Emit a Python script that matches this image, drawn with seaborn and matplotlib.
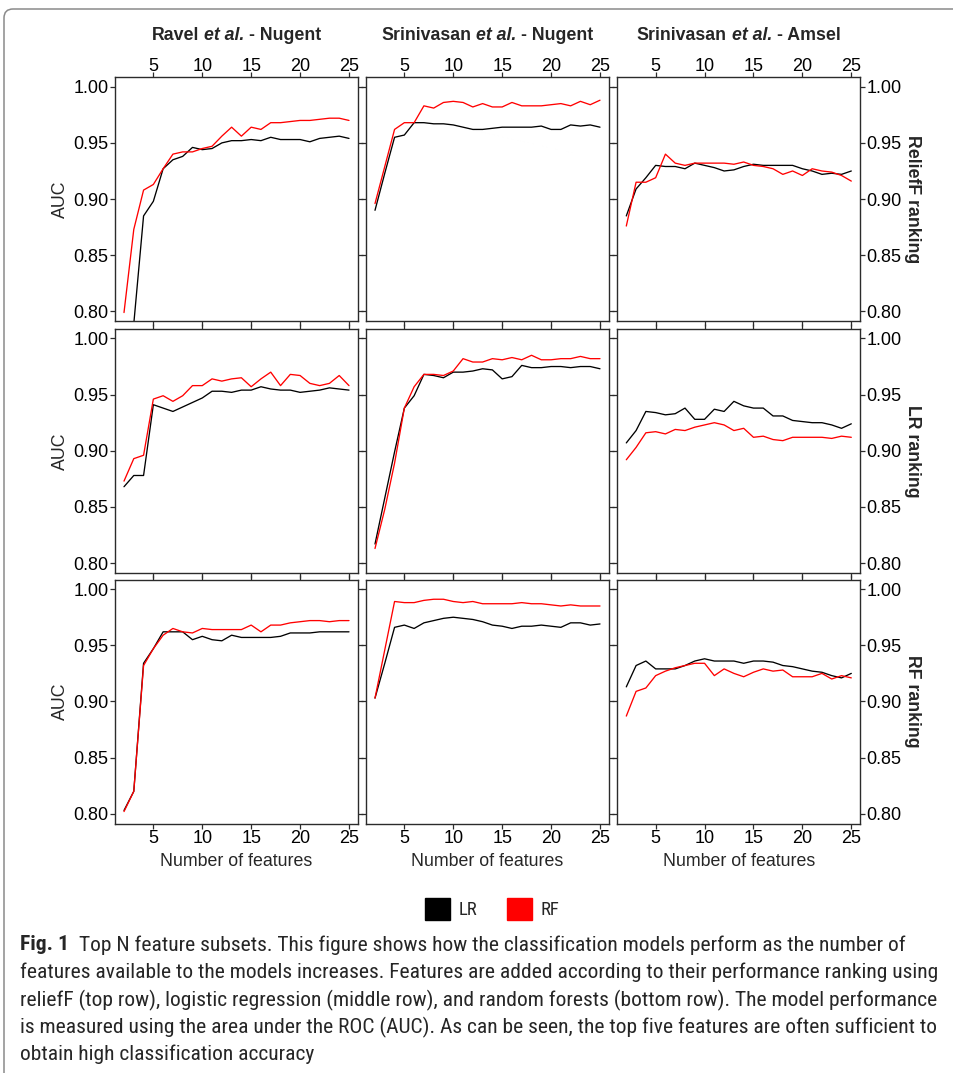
import matplotlib
matplotlib.use("Agg")
import numpy as np
import pandas as pd
import matplotlib.pyplot as plt
import seaborn as sns
from matplotlib.patches import Patch, FancyBboxPatch
from matplotlib.ticker import FormatStrFormatter
from matplotlib.transforms import IdentityTransform, ScaledTranslation
from matplotlib import font_manager

# ---------------- data ----------------
n_features = list(range(2, 26))

col_titles = [("Ravel", "et al.", "- Nugent"),
              ("Srinivasan", "et al.", "- Nugent"),
              ("Srinivasan", "et al.", "- Amsel")]
row_titles = ["ReliefF ranking", "LR ranking", "RF ranking"]
models = ["LR", "RF"]
model_colors = ["black", "red"]

# ReliefF ranking (top row)
relieff_ravel_lr = [0.750, 0.789, 0.885, 0.898, 0.927, 0.935, 0.938, 0.946, 0.944, 0.945, 0.950, 0.952,
                    0.952, 0.953, 0.952, 0.955, 0.953, 0.953, 0.953, 0.951, 0.954, 0.955, 0.956, 0.954]
relieff_ravel_rf = [0.799, 0.873, 0.908, 0.913, 0.927, 0.940, 0.942, 0.942, 0.945, 0.947, 0.956, 0.964,
                    0.956, 0.964, 0.962, 0.968, 0.968, 0.969, 0.970, 0.970, 0.971, 0.972, 0.972, 0.970]
relieff_srin_nugent_lr = [0.890, 0.923, 0.955, 0.957, 0.968, 0.968, 0.967, 0.967, 0.966, 0.964, 0.962, 0.962,
                          0.963, 0.964, 0.964, 0.964, 0.964, 0.965, 0.962, 0.962, 0.966, 0.965, 0.966, 0.964]
relieff_srin_nugent_rf = [0.896, 0.929, 0.962, 0.968, 0.968, 0.983, 0.981, 0.986, 0.987, 0.986, 0.982, 0.985,
                          0.982, 0.982, 0.986, 0.983, 0.983, 0.983, 0.984, 0.985, 0.983, 0.987, 0.984, 0.988]
relieff_srin_amsel_lr = [0.885, 0.909, 0.919, 0.930, 0.929, 0.929, 0.927, 0.932, 0.930, 0.928, 0.925, 0.926,
                         0.929, 0.931, 0.930, 0.930, 0.930, 0.930, 0.927, 0.925, 0.922, 0.923, 0.922, 0.925]
relieff_srin_amsel_rf = [0.876, 0.915, 0.915, 0.919, 0.940, 0.932, 0.930, 0.932, 0.932, 0.932, 0.932, 0.931,
                         0.933, 0.930, 0.929, 0.927, 0.922, 0.925, 0.921, 0.927, 0.925, 0.924, 0.921, 0.916]

# LR ranking (middle row)
lr_ravel_lr = [0.868, 0.878, 0.878, 0.941, 0.938, 0.935, 0.939, 0.943, 0.947, 0.953, 0.953, 0.952,
               0.954, 0.954, 0.957, 0.955, 0.954, 0.954, 0.952, 0.953, 0.954, 0.956, 0.955, 0.954]
lr_ravel_rf = [0.873, 0.893, 0.896, 0.946, 0.949, 0.944, 0.949, 0.958, 0.958, 0.964, 0.962, 0.964,
               0.965, 0.957, 0.964, 0.970, 0.958, 0.968, 0.967, 0.960, 0.958, 0.960, 0.967, 0.958]
lr_srin_nugent_lr = [0.817, 0.858, 0.899, 0.938, 0.949, 0.968, 0.967, 0.965, 0.970, 0.970, 0.971, 0.973,
                     0.972, 0.964, 0.966, 0.976, 0.974, 0.974, 0.975, 0.975, 0.974, 0.975, 0.975, 0.973]
lr_srin_nugent_rf = [0.813, 0.848, 0.889, 0.938, 0.957, 0.968, 0.968, 0.967, 0.971, 0.982, 0.979, 0.979,
                     0.982, 0.981, 0.983, 0.981, 0.985, 0.981, 0.981, 0.982, 0.982, 0.984, 0.982, 0.982]
lr_srin_amsel_lr = [0.907, 0.918, 0.935, 0.934, 0.932, 0.933, 0.938, 0.928, 0.928, 0.937, 0.935, 0.944,
                    0.940, 0.938, 0.938, 0.931, 0.931, 0.927, 0.926, 0.925, 0.925, 0.923, 0.920, 0.924]
lr_srin_amsel_rf = [0.892, 0.903, 0.916, 0.917, 0.915, 0.919, 0.918, 0.921, 0.923, 0.925, 0.923, 0.918,
                    0.920, 0.912, 0.913, 0.910, 0.909, 0.912, 0.912, 0.912, 0.912, 0.911, 0.913, 0.912]

# RF ranking (bottom row)
rf_ravel_lr = [0.803, 0.820, 0.934, 0.947, 0.962, 0.962, 0.962, 0.955, 0.958, 0.955, 0.954, 0.959,
               0.957, 0.957, 0.957, 0.957, 0.958, 0.961, 0.961, 0.961, 0.962, 0.962, 0.962, 0.962]
rf_ravel_rf = [0.802, 0.820, 0.932, 0.947, 0.959, 0.965, 0.962, 0.961, 0.965, 0.964, 0.964, 0.964,
               0.964, 0.968, 0.962, 0.968, 0.968, 0.970, 0.971, 0.972, 0.972, 0.971, 0.972, 0.972]
rf_srin_nugent_lr = [0.903, 0.934, 0.966, 0.968, 0.965, 0.970, 0.972, 0.974, 0.975, 0.974, 0.973, 0.971,
                     0.968, 0.967, 0.965, 0.967, 0.967, 0.968, 0.967, 0.966, 0.970, 0.970, 0.968, 0.969]
rf_srin_nugent_rf = [0.903, 0.946, 0.989, 0.988, 0.988, 0.990, 0.991, 0.991, 0.989, 0.988, 0.989, 0.987,
                     0.987, 0.987, 0.987, 0.988, 0.987, 0.987, 0.986, 0.985, 0.986, 0.985, 0.985, 0.985]
rf_srin_amsel_lr = [0.913, 0.932, 0.936, 0.929, 0.929, 0.929, 0.932, 0.936, 0.938, 0.936, 0.936, 0.936,
                    0.934, 0.936, 0.936, 0.935, 0.932, 0.931, 0.929, 0.927, 0.926, 0.923, 0.921, 0.925]
rf_srin_amsel_rf = [0.887, 0.909, 0.912, 0.923, 0.927, 0.930, 0.932, 0.934, 0.934, 0.923, 0.929, 0.925,
                    0.922, 0.926, 0.929, 0.927, 0.928, 0.922, 0.922, 0.922, 0.925, 0.920, 0.923, 0.921]

x_ticks = [5, 10, 15, 20, 25]
y_ticks = [0.80, 0.85, 0.90, 0.95, 1.00]

caption_bold = "Fig. 1"
caption_lines = [
    "Top N feature subsets. This figure shows how the classification models perform as the number of",
    "features available to the models increases. Features are added according to their performance ranking using",
    "reliefF (top row), logistic regression (middle row), and random forests (bottom row). The model performance",
    "is measured using the area under the ROC (AUC). As can be seen, the top five features are often sufficient to",
    "obtain high classification accuracy",
]

grid = [
    [(relieff_ravel_lr, relieff_ravel_rf), (relieff_srin_nugent_lr, relieff_srin_nugent_rf),
     (relieff_srin_amsel_lr, relieff_srin_amsel_rf)],
    [(lr_ravel_lr, lr_ravel_rf), (lr_srin_nugent_lr, lr_srin_nugent_rf),
     (lr_srin_amsel_lr, lr_srin_amsel_rf)],
    [(rf_ravel_lr, rf_ravel_rf), (rf_srin_nugent_lr, rf_srin_nugent_rf),
     (rf_srin_amsel_lr, rf_srin_amsel_rf)],
]

# ---------------- style ----------------
sns.set_theme(style="white")
plt.rcParams["font.family"] = ["Liberation Sans", "DejaVu Sans"]


def pick_font(cands):
    for c in cands:
        try:
            font_manager.findfont(font_manager.FontProperties(family=c), fallback_to_default=False)
            return c
        except Exception:
            continue
    return "Liberation Sans"


cap_font = pick_font(["Liberation Sans Narrow", "Roboto Condensed", "Roboto", "Liberation Sans"])

W, H = 954, 1073
fig = plt.figure(figsize=(W / 100, H / 100), dpi=100)
renderer = fig.canvas.get_renderer()

# frame
frame = FancyBboxPatch((4, -60), 1100, 1064 + 60, boxstyle="round,pad=0,rounding_size=9",
                       transform=IdentityTransform(), fill=False, edgecolor="#8a8a8a", linewidth=1.1)
fig.patches.append(frame)

col_left = [115, 366, 617.3]
row_top = [77.3, 329, 579.7]
pw, ph = 243, 244
spine_c = "#2b2b2b"
top_shift = ScaledTranslation(0, -4.5 / 100, fig.dpi_scale_trans)

for r in range(3):
    for c in range(3):
        ax = fig.add_axes([col_left[c] / W, 1 - (row_top[r] + ph) / H, pw / W, ph / H])
        lr_vals, rf_vals = grid[r][c]
        df = pd.DataFrame({
            "n": n_features * 2,
            "auc": lr_vals + rf_vals,
            "model": ["LR"] * len(n_features) + ["RF"] * len(n_features),
        })
        sns.lineplot(data=df, x="n", y="auc", hue="model", hue_order=models,
                     palette=dict(zip(models, model_colors)), linewidth=0.95,
                     legend=False, ax=ax)
        ax.set_xlim(1.08, 25.92)
        ax.set_ylim(0.7912, 1.0084)
        ax.set_xticks(x_ticks)
        ax.set_yticks(y_ticks)
        ax.yaxis.set_major_formatter(FormatStrFormatter("%.2f"))
        ax.set_xlabel("")
        ax.set_ylabel("")
        for s in ax.spines.values():
            s.set_color(spine_c)
            s.set_linewidth(1.0)
        ax.tick_params(direction="out", length=3.8, width=0.9, colors=spine_c,
                       labelcolor="black", labelsize=13, pad=0.8,
                       top=True, bottom=True, left=True, right=True,
                       labeltop=(r == 0), labelbottom=(r == 2),
                       labelleft=(c == 0), labelright=(c == 2))
        if r == 0:
            for t in ax.xaxis.get_major_ticks():
                t.label2.set_transform(t.label2.get_transform() + top_shift)


def text_width(s, **kw):
    t = fig.text(0, 0, s, **kw)
    w = t.get_window_extent(renderer).width
    t.remove()
    return w


# column titles (bold, with bold-italic "et al.")
tsize = 12.8
space_w = text_width("x x", fontsize=tsize, fontweight="bold") - text_width("xx", fontsize=tsize, fontweight="bold")
for c in range(3):
    a, b, d = col_titles[c]
    wa = text_width(a, fontsize=tsize, fontweight="bold")
    wb = text_width(b, fontsize=tsize, fontweight="bold", fontstyle="italic")
    wd = text_width(d, fontsize=tsize, fontweight="bold")
    total = wa + wb + wd + 2 * space_w
    x0 = col_left[c] + pw / 2 - total / 2
    y = 1 - 35 / H
    fig.text(x0 / W, y, a, fontsize=tsize, fontweight="bold", ha="left", va="center")
    fig.text((x0 + wa + space_w) / W, y, b, fontsize=tsize, fontweight="bold", fontstyle="italic",
             ha="left", va="center")
    fig.text((x0 + wa + wb + 2 * space_w) / W, y, d, fontsize=tsize, fontweight="bold",
             ha="left", va="center")
    fig.text((col_left[c] + pw / 2) / W, 1 - 862 / H, "Number of features", ha="center", va="center",
             fontsize=12.8)

# row labels
for r in range(3):
    yc = 1 - (row_top[r] + ph / 2) / H
    fig.text(60 / W, yc, "AUC", rotation=90, ha="center", va="center", fontsize=12.8)
    fig.text(913 / W, yc, row_titles[r], rotation=-90, ha="center", va="center",
             fontsize=12.8, fontweight="bold")

# legend
handles = [Patch(facecolor=col, edgecolor=col) for col in model_colors]
fig.legend(handles, models, loc="center", bbox_to_anchor=(492 / W, 1 - 909 / H), ncol=2,
           frameon=False, handlelength=1.35, handleheight=1.35, handletextpad=0.45,
           columnspacing=1.6, prop={"family": cap_font, "size": 13.5})

# caption: fit width of the second line to the reference
w = text_width(caption_lines[1], fontsize=14, family=cap_font)
cap_size = 14 * 925 / w

ys = [945, 972, 1000, 1027, 1054]
tb = fig.text(20 / W, 1 - ys[0] / H, caption_bold, fontsize=cap_size, family=cap_font,
              fontweight="bold", va="center", ha="left")
bw = tb.get_window_extent(renderer).width
fig.text((20 + bw + 10) / W, 1 - ys[0] / H, caption_lines[0], fontsize=cap_size, family=cap_font,
         va="center", ha="left")
for i in range(1, 5):
    fig.text(20 / W, 1 - ys[i] / H, caption_lines[i], fontsize=cap_size, family=cap_font,
             va="center", ha="left")

fig.savefig("out.png", dpi=100)
